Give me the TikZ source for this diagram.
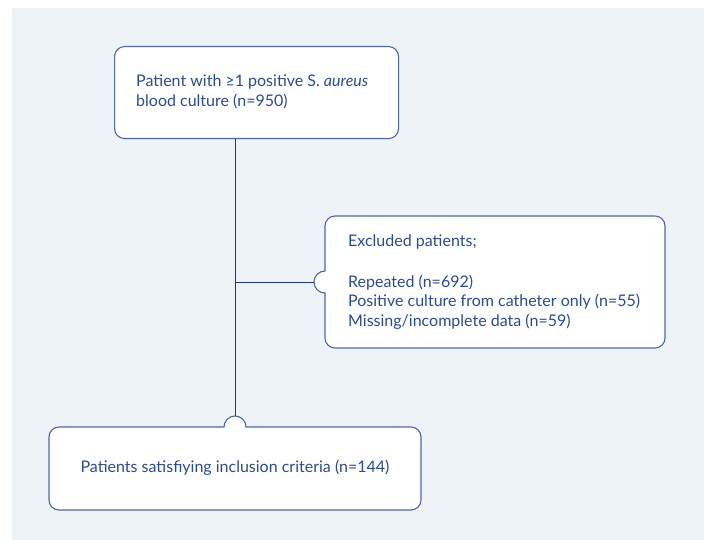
\documentclass[tikz,border=0pt]{standalone}
\usepackage{fontspec}
\setmainfont{Lato}
\definecolor{panel}{HTML}{EEF3F8}
\definecolor{boxline}{HTML}{4A68AE}
\definecolor{conline}{HTML}{1F3A78}
\definecolor{txt}{HTML}{2A4A9A}
\tikzset{
  boxstyle/.style={draw=boxline, fill=white, line width=1.1pt},
  conn/.style={draw=conline, line width=1pt},
  lbl/.style={inner sep=0pt, text=txt, font=\fontsize{16}{19.5}\selectfont, align=left},
}
\begin{document}
\begin{tikzpicture}[x=1pt,y=-1pt]
\useasboundingbox (0,0) rectangle (704,540);
\fill[panel] (12,8) rectangle (704,540);
% top box
\node[boxstyle, rounded corners=10pt, minimum width=284pt, minimum height=92pt, anchor=north west, inner sep=0pt] (top) at (114,46) {};
\node[lbl, anchor=west] (toptext) at (136,92) {Patient with ≥1 positive S. \textit{aureus}\\blood culture (n=950)};
% excluded box with left bump
\path[boxstyle] (335,216) -- (655,216) arc[start angle=270,end angle=360,radius=10]
  -- (665,338) arc[start angle=0,end angle=90,radius=10]
  -- (335,348) arc[start angle=90,end angle=180,radius=10]
  -- (325,293) arc[start angle=90,end angle=270,radius=11]
  -- (325,226) arc[start angle=180,end angle=270,radius=10] -- cycle;
\node[lbl, anchor=north west] (extext) at (348,235) {Excluded patients;\\[21pt]Repeated (n=692)\\Positive culture from catheter only (n=55)\\Missing/incomplete data (n=59)};
% bottom box with top bump
\path[boxstyle] (59,427) -- (224,427) arc[start angle=180,end angle=360,radius=11]
  -- (411,427) arc[start angle=270,end angle=360,radius=10]
  -- (421,500) arc[start angle=0,end angle=90,radius=10]
  -- (59,510) arc[start angle=90,end angle=180,radius=10]
  -- (49,437) arc[start angle=180,end angle=270,radius=10] -- cycle;
\node[lbl, anchor=center] (bottext) at (235,468) {Patients satisfiying inclusion criteria (n=144)};
% connectors
\coordinate (bumpB) at (235,416);
\coordinate (bumpE) at (314,282);
\coordinate (junc) at (235,282);
\draw[conn] (top.south -| bumpB) -- (bumpB);
\draw[conn] (junc) -- (bumpE);
\end{tikzpicture}
\end{document}
